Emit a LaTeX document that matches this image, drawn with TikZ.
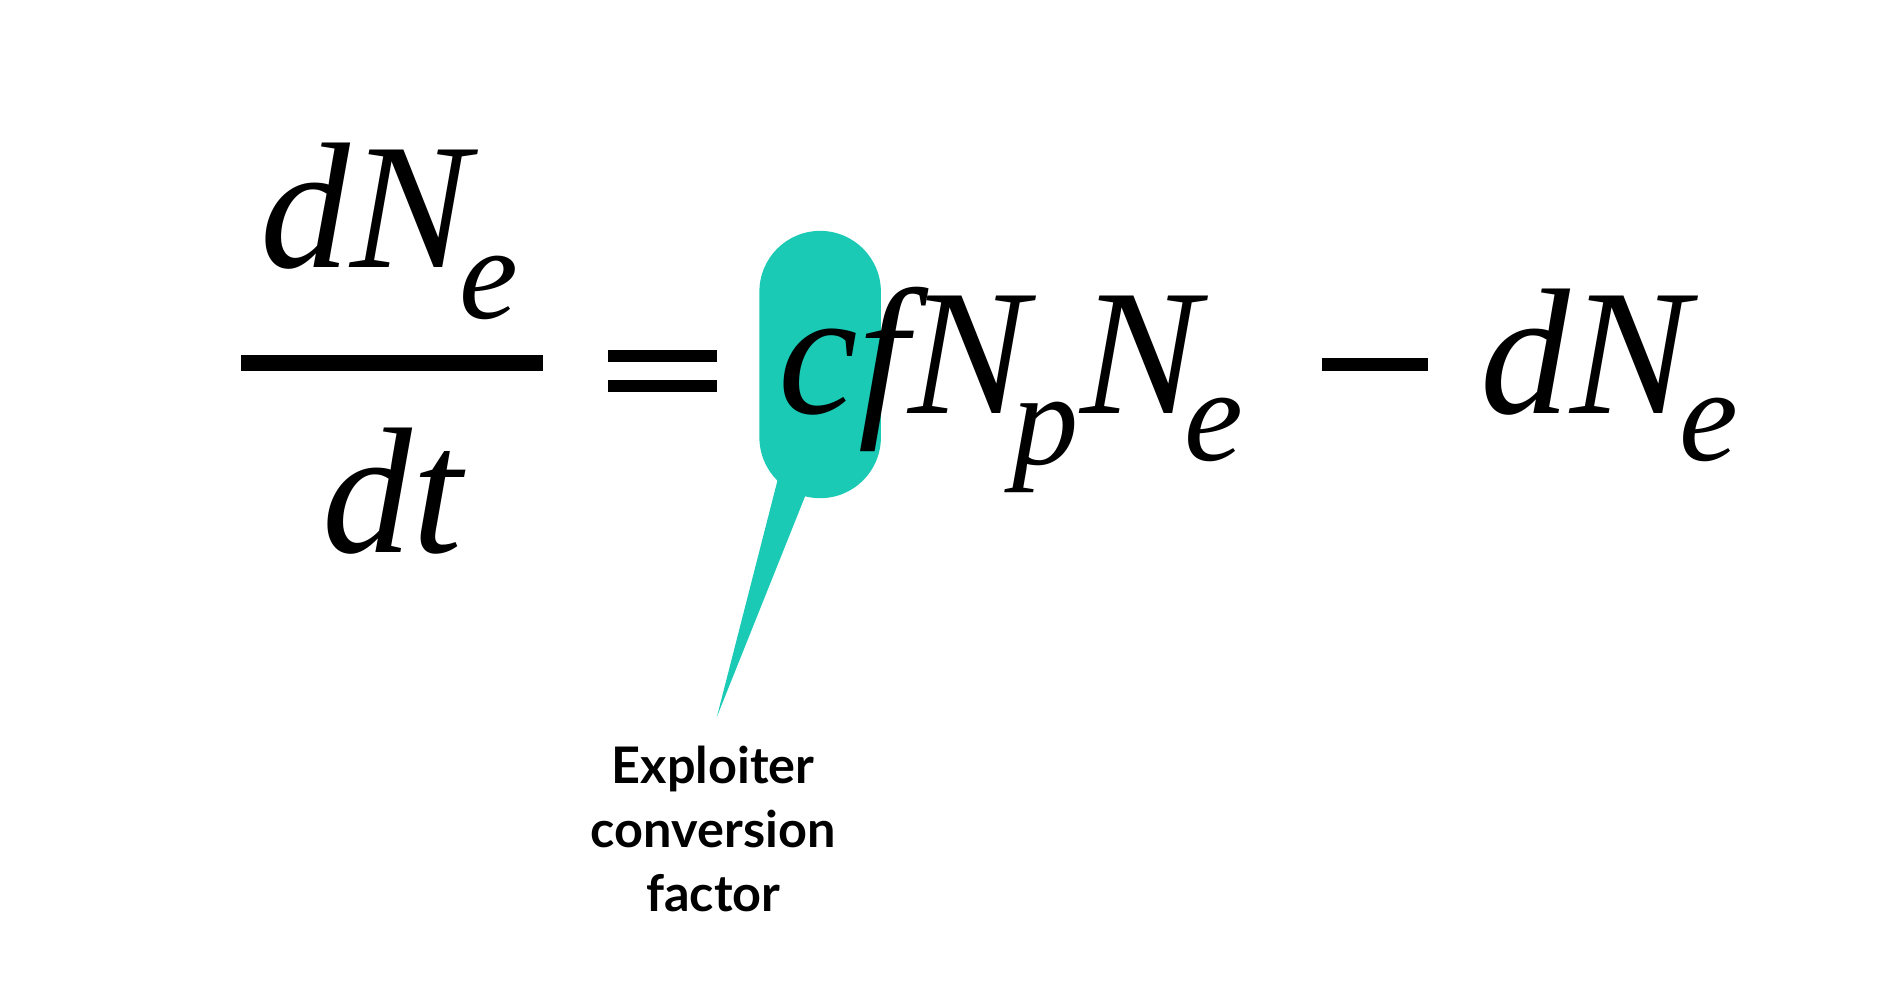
\documentclass[tikz,border=0pt]{standalone}
\usepackage{fontspec}
\setmainfont{Liberation Serif}
\newfontfamily\lab{Lato}
\definecolor{teal1}{HTML}{1ACAB5}
\begin{document}
\begin{tikzpicture}[x=0.01cm,y=-0.01cm,
  big/.style={inner sep=0pt,anchor=base west,font=\fontsize{42}{46}\selectfont\itshape},
  sub/.style={inner sep=0pt,anchor=base west,font=\fontsize{31}{34}\selectfont\itshape},
  lbl/.style={align=center,font=\lab\bfseries\fontsize{11.8}{15}\selectfont}]
\useasboundingbox (0,0) rectangle (1558,823);
% highlight
\fill[teal1] (640,395) -- (668,395) -- (590,590) -- cycle;
\fill[teal1,rounded corners=0.5cm] (625,190) rectangle (725,410);
% fraction
\node[big] (n1) at (214,220) {dN};
\node[sub] (n2) at ([xshift=-3pt,yshift=-12pt]n1.base east) {e};
\fill (198,292) rectangle (447,305);
\node[big] (d1) at (265,455) {dt};
% equals
\fill (500,288) rectangle (590,298);
\fill (500,313) rectangle (590,323);
% right side
\node[big] (r1) at (640,340) {cfN};
\node[sub] (r2) at ([xshift=-4pt,yshift=-12pt]r1.base east) {p};
\node[big] (r3) at ([yshift=12pt]r2.base east) {N};
\node[sub] (r4) at ([xshift=-4pt,yshift=-11pt]r3.base east) {e};
\fill (1088,295) rectangle (1175,305);
\node[big] (r5) at (1218,340) {dN};
\node[sub] (r6) at ([xshift=-3pt,yshift=-11pt]r5.base east) {e};
\node[lbl] (l) at (587,682) {Exploiter\\conversion\\factor};
\end{tikzpicture}
\end{document}
